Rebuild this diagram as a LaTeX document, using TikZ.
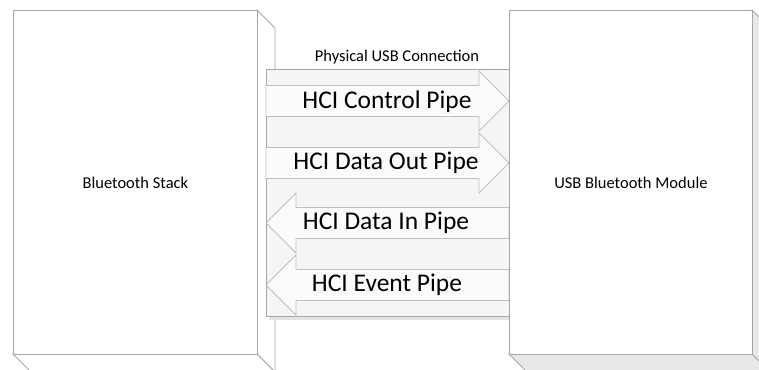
\documentclass[tikz,border=0pt]{standalone}
\usepackage{fontspec}
\setmainfont{Carlito}
\usepackage{xcolor}
\usepackage{tikz}
\usetikzlibrary{calc}

\definecolor{edgegray}{HTML}{A6A6A6}
\definecolor{pipegray}{HTML}{BFBFBF}
\definecolor{sidegray}{HTML}{E8E8E8}
\definecolor{panelgray}{HTML}{F5F5F5}
\definecolor{shadowgray}{HTML}{E4E4E4}

\tikzset{
    box/.style={draw=edgegray, fill=white, line width=0.8pt, rectangle, inner sep=0pt,
        font=\fontsize{16.5}{20}\selectfont},
    side/.style={draw=edgegray, line width=0.8pt},
    pipe/.style={draw=pipegray, fill=white!60!panelgray, line width=0.8pt},
    bigtext/.style={font=\fontsize{25.5}{30}\selectfont, inner sep=0pt},
    smalltext/.style={font=\fontsize{16.5}{20}\selectfont, inner sep=0pt},
}

\begin{document}
\begin{tikzpicture}[x=1pt, y=-1pt]
    \useasboundingbox (0,0) rectangle (759,369);
    \clip (0,0) rectangle (759,369);
    % left box
    \filldraw[side, fill=white] (257,10) -- (275,28) -- (275,372) -- (257,354) -- cycle;
    \filldraw[side, fill=white] (13,354) -- (257,354) -- (275,372) -- (31,372) -- cycle;
    \node[box, minimum width=244, minimum height=344, anchor=north west] (stack) at (13,10) {Bluetooth Stack};
    % connection panel
    \fill[shadowgray] (269,73) rectangle (512,320);
    \node[box, fill=panelgray, minimum width=243, minimum height=247, anchor=north west] (usb) at (266,69) {};
    \node[smalltext] (usblabel) at (397,57) {Physical USB Connection};
    % pipes
    \draw[pipe] (266,85.5) -- (479,85.5) -- (479,71) -- (509,101) -- (479,131) -- (479,116.5) -- (266,116.5) -- cycle;
    \node[bigtext] (ctrl) at (387,102) {HCI Control Pipe};
    \draw[pipe] (266,147.5) -- (479,147.5) -- (479,133) -- (509,163) -- (479,193) -- (479,178.5) -- (266,178.5) -- cycle;
    \node[bigtext] (dataout) at (386,163) {HCI Data Out Pipe};
    \draw[pipe] (509,207.5) -- (296,207.5) -- (296,193) -- (266,223) -- (296,253) -- (296,238.5) -- (509,238.5) -- cycle;
    \node[bigtext] (datain) at (386,223) {HCI Data In Pipe};
    \draw[pipe] (509,269.5) -- (296,269.5) -- (296,255) -- (266,285) -- (296,315) -- (296,300.5) -- (509,300.5) -- cycle;
    \node[bigtext] (event) at (387,285) {HCI Event Pipe};
    % right box
    \filldraw[side, fill=sidegray] (752,10) -- (770,28) -- (770,372) -- (752,354) -- cycle;
    \filldraw[side, fill=sidegray] (509,354) -- (752,354) -- (770,372) -- (527,372) -- cycle;
    \node[box, minimum width=243, minimum height=344, anchor=north west] (module) at (509,10) {USB Bluetooth Module};
\end{tikzpicture}
\end{document}
